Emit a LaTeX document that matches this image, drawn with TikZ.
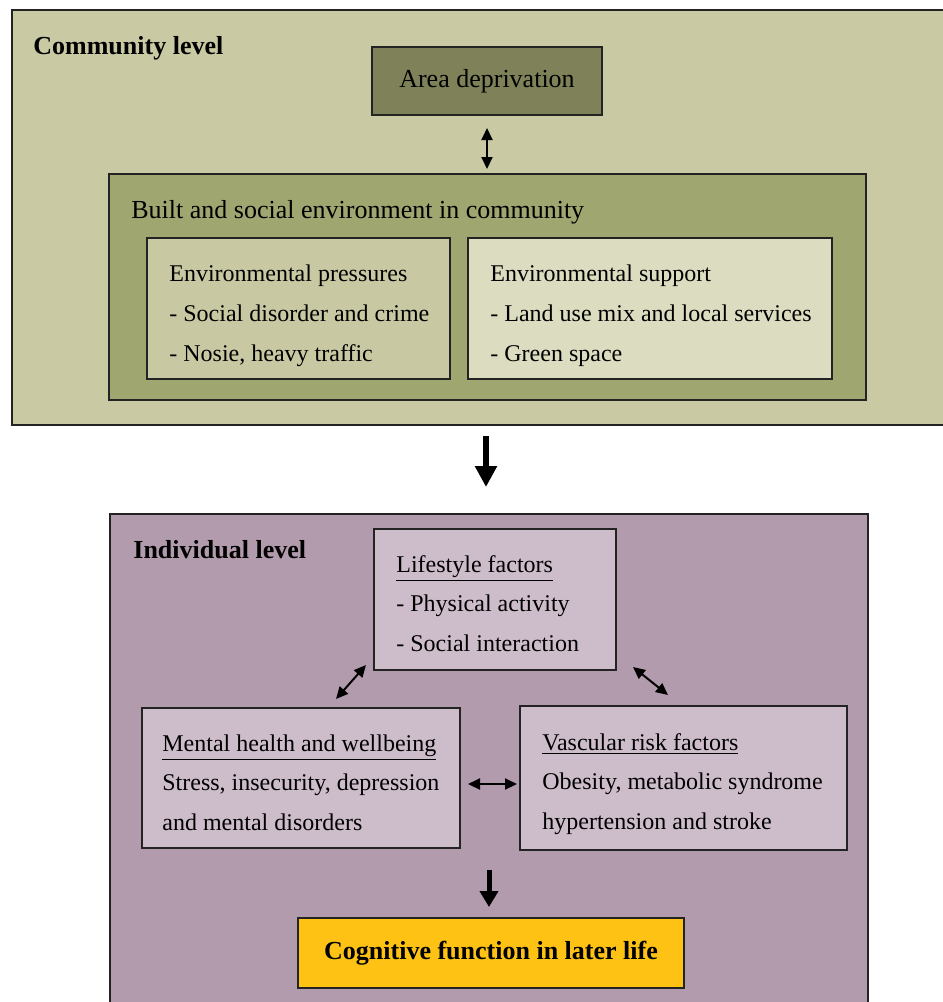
\documentclass[tikz,border=0pt]{standalone}
\usepackage{fontspec}
\setmainfont{Liberation Serif}
\usetikzlibrary{arrows.meta,fit,calc}

\definecolor{commbg}{RGB}{201,202,164}
\definecolor{areabg}{RGB}{127,130,89}
\definecolor{builtbg}{RGB}{160,166,112}
\definecolor{pressbg}{RGB}{200,201,163}
\definecolor{suppbg}{RGB}{220,221,192}
\definecolor{indivbg}{RGB}{178,155,173}
\definecolor{factbg}{RGB}{205,189,202}
\definecolor{cogbg}{RGB}{253,194,20}
\definecolor{edge}{RGB}{35,35,35}

\begin{document}
\begin{tikzpicture}[x=0.5pt, y=-0.5pt,
    box/.style={draw=edge, line width=1pt, inner sep=0pt},
    txt/.style={anchor=base west, inner sep=0pt, font=\fontsize{12}{14}\selectfont},
    head/.style={anchor=base west, inner sep=0pt, font=\fontsize{13}{15}\selectfont\bfseries},
    biarrow/.style={{Triangle[length=6pt,width=5.5pt]}-{Triangle[length=6pt,width=5.5pt]}, line width=1pt},
    bigarrow/.style={-{Triangle[length=10.5pt,width=10.5pt]}, line width=3pt}]

    \useasboundingbox (0,0) rectangle (943,1002);
    \fill[white] (0,0) rectangle (943,1002);

    % community level
    \node[box, fill=commbg, fit={(12,10) (960,425)}] (community) {};
    \node[head] (commlabel) at (33,54) {Community level};

    \node[box, fill=areabg, fit={(372,47) (602,115)}] (area) {};
    \node[font=\fontsize{13}{15}\selectfont, inner sep=0pt] (areatxt) at (area) {Area deprivation};

    \node[box, fill=builtbg, fit={(109,174) (866,400)}] (built) {};
    \node[txt, font=\fontsize{13}{15}\selectfont] (builttxt) at (131,218) {Built and social environment in community};

    \node[box, fill=pressbg, fit={(147,238) (450,379)}] (press) {};
    \node[txt] (press1) at (169,281) {Environmental pressures};
    \node[txt] (press2) at (169,321) {- Social disorder and crime};
    \node[txt] (press3) at (169,361) {- Nosie, heavy traffic};

    \node[box, fill=suppbg, fit={(468,238) (832,379)}] (supp) {};
    \node[txt] (supp1) at (490,281) {Environmental support};
    \node[txt] (supp2) at (490,321) {- Land use mix and local services};
    \node[txt] (supp3) at (490,361) {- Green space};

    \draw[biarrow, shorten <=6pt, shorten >=2pt] (area) -- (area |- built.north);

    % individual level
    \node[box, fill=indivbg, fit={(110,514) (868,1030)}] (indiv) {};
    \node[head] (indivlabel) at (133,558) {Individual level};

    \draw[bigarrow, shorten <=5pt, shorten >=13pt] (community.south) -- (community.south |- indiv.north);

    \node[box, fill=factbg, fit={(374,529) (616,670)}] (life) {};
    \node[txt] (life1) at (396,572) {\underline{Lifestyle factors}};
    \node[txt] (life2) at (396,611) {- Physical activity};
    \node[txt] (life3) at (396,651) {- Social interaction};

    \node[box, fill=factbg, fit={(142,708) (460,848)}] (mental) {};
    \node[txt] (mental1) at (162,751) {\underline{Mental health and wellbeing}};
    \node[txt] (mental2) at (162,790) {Stress, insecurity, depression};
    \node[txt] (mental3) at (162,830) {and mental disorders};

    \node[box, fill=factbg, fit={(520,706) (847,850)}] (vasc) {};
    \node[txt] (vasc1) at (542,750) {\underline{Vascular risk factors}};
    \node[txt] (vasc2) at (542,789) {Obesity, metabolic syndrome};
    \node[txt] (vasc3) at (542,829) {hypertension and stroke};

    \node[box, fill=cogbg, fit={(298,918) (684,988)}] (cog) {};
    \node[font=\fontsize{13}{15}\selectfont\bfseries, inner sep=0pt] (cogtxt) at (cog) {Cognitive function in later life};

    \draw[biarrow] ($(life.south west)+(-7,-6)$) -- ($(life.south west)+(-37,28)$);
    \draw[biarrow] ($(life.south east)+(16,-4)$) -- ($(life.south east)+(51,24)$);
    \draw[biarrow, shorten <=3.5pt, shorten >=1pt] ([yshift=-3pt]mental.east) -- ([yshift=-3pt]mental.east -| vasc.west);

    \coordinate (split) at (489,870);
    \draw[-{Triangle[length=8pt,width=9pt]}, line width=2.5pt, shorten >=5pt] (split) -- (split |- cog.north);
\end{tikzpicture}
\end{document}
